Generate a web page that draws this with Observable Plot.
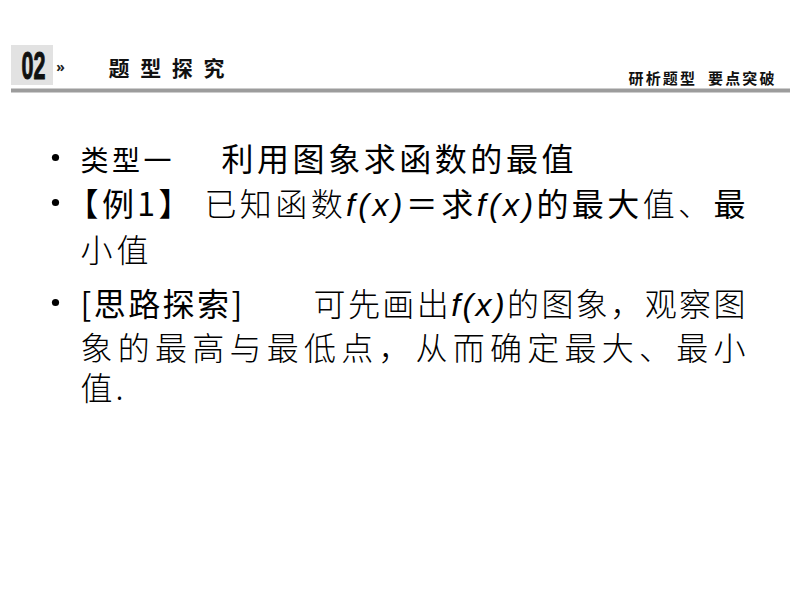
<!DOCTYPE html>
<html><head><meta charset="utf-8">
<script src="https://cdn.jsdelivr.net/npm/d3@7"></script>
<script src="https://cdn.jsdelivr.net/npm/@observablehq/plot@0.6"></script>
<style>
html,body{margin:0;padding:0;background:#fff;overflow:hidden;}
#chart svg{display:block;}
</style></head><body><div id="chart"></div>
<script>
// ---- text content ----
const sectionNumber = ["02"];
const headerMark = ["»"];
const sectionTitle = ["题型探究"];
const headerRight = ["研析题型  要点突破"];
// each body line: list of [text, style]
const line1 = [["类型一", "h"], ["　 利用图象求函数的最值", "m"]];
const line2 = [["【例1】 ", "b"], ["已知函数", "l"], ["f(x)", "i"], ["＝求", "b"], ["f(x)", "i"], ["的最大", "b"], ["值、", "l"], ["最", "b"]];
const line3 = [["小值", "l"]];
const line4 = [["[思路探索]", "b"], ["　　可先画出", "l"], ["f(x)", "i"], ["的图象，观察图", "l"]];
const line5 = [["象的最高与最低点，从而确定最大、最小", "l"]];
const line6 = [["值.", "l"]];
const bodyLines = [line1, line2, line3, line4, line5, line6];
const bulletLines = [0, 1, 3];

// ---- layout (separate from content) ----
const W = 794, H = 596;
const lineX = [80, 66, 80, 80, 80, 80];
const lineY = [160, 205, 251, 305, 349, 389];
const lineWidth = [493, 679, 68, 665, 665, 43];
const segStyle = {
  h: {family: "'Noto Sans CJK SC'", weight: 400, size: 28, italic: false},
  m: {family: "'Noto Sans CJK SC'", weight: 400, size: 32, italic: false},
  b: {family: "'Noto Sans CJK SC'", weight: 400, size: 32, italic: false},
  l: {family: "'Noto Sans CJK SC'", weight: 300, size: 32, italic: false},
  i: {family: "'Liberation Sans', Arial, sans-serif", weight: 400, size: 32, italic: true}
};

const rows = bodyLines.map((segs, i) => ({i, text: segs.map(s => s[0]).join("")}));

const svg = Plot.plot({
  width: W, height: H, margin: 0,
  x: {domain: [0, W], range: [0, W], axis: null},
  y: {domain: [0, H], range: [0, H], axis: null},
  marks: [
    Plot.rect([0], {x1: 11, x2: 53, y1: 45, y2: 85, fill: "#e2e2e2"}),
    Plot.ruleY([90], {x1: 11, x2: 790, stroke: "#9c9c9c", strokeWidth: 4}),
    Plot.text(sectionNumber, {x: 21, y: 66, text: d => d, textAnchor: "start", fontFamily: "'Liberation Sans Narrow', 'Liberation Sans', sans-serif", fontWeight: "bold", fontSize: 38, fill: "#111", stroke: "#111", strokeWidth: 1, className: "secnum"}),
    Plot.text(headerMark, {x: 60, y: 67, text: d => d, fontSize: 14, fontWeight: "bold", fill: "#222"}),
    Plot.text(sectionTitle, {x: 108, y: 69, text: d => d, textAnchor: "start", fontFamily: "'Noto Sans CJK SC'", fontWeight: "bold", fontSize: 21, fill: "#111", className: "sectitle"}),
    Plot.text(headerRight, {x: 774, y: 79, text: d => d, textAnchor: "end", fontFamily: "'Noto Sans CJK SC'", fontWeight: "bold", fontSize: 15, fill: "#111", className: "hdright"}),
    Plot.dot(bulletLines, {x: 55, y: i => lineY[i] - 3, r: 3.6, fill: "#000", stroke: null}),
    Plot.text(rows, {x: d => lineX[d.i], y: d => lineY[d.i], text: "text", textAnchor: "start", fontFamily: "'Noto Sans CJK SC'", fontSize: 32, fill: "#000", className: "body"})
  ]
});

const s = d3.select(svg);
s.selectAll("g.secnum text").attr("textLength", 24).attr("lengthAdjust", "spacingAndGlyphs");
s.selectAll("g.sectitle text").attr("textLength", 116).attr("lengthAdjust", "spacing");
s.selectAll("g.hdright text").attr("textLength", 146).attr("lengthAdjust", "spacing").style("white-space", "pre").attr("xml:space", "preserve");
s.selectAll("g.body text").each(function(_, k) {
  const t = d3.select(this);
  t.text(null).attr("xml:space", "preserve").style("white-space", "pre");
  for (const [str, code] of bodyLines[k]) {
    const st = segStyle[code];
    t.append("tspan")
      .text(str)
      .style("font-family", st.family)
      .style("font-weight", st.weight)
      .style("font-size", st.size + "px")
      .style("font-style", st.italic ? "italic" : "normal");
  }
  t.attr("textLength", lineWidth[k]).attr("lengthAdjust", "spacing");
});

document.getElementById("chart").appendChild(svg);
</script>
</body></html>
